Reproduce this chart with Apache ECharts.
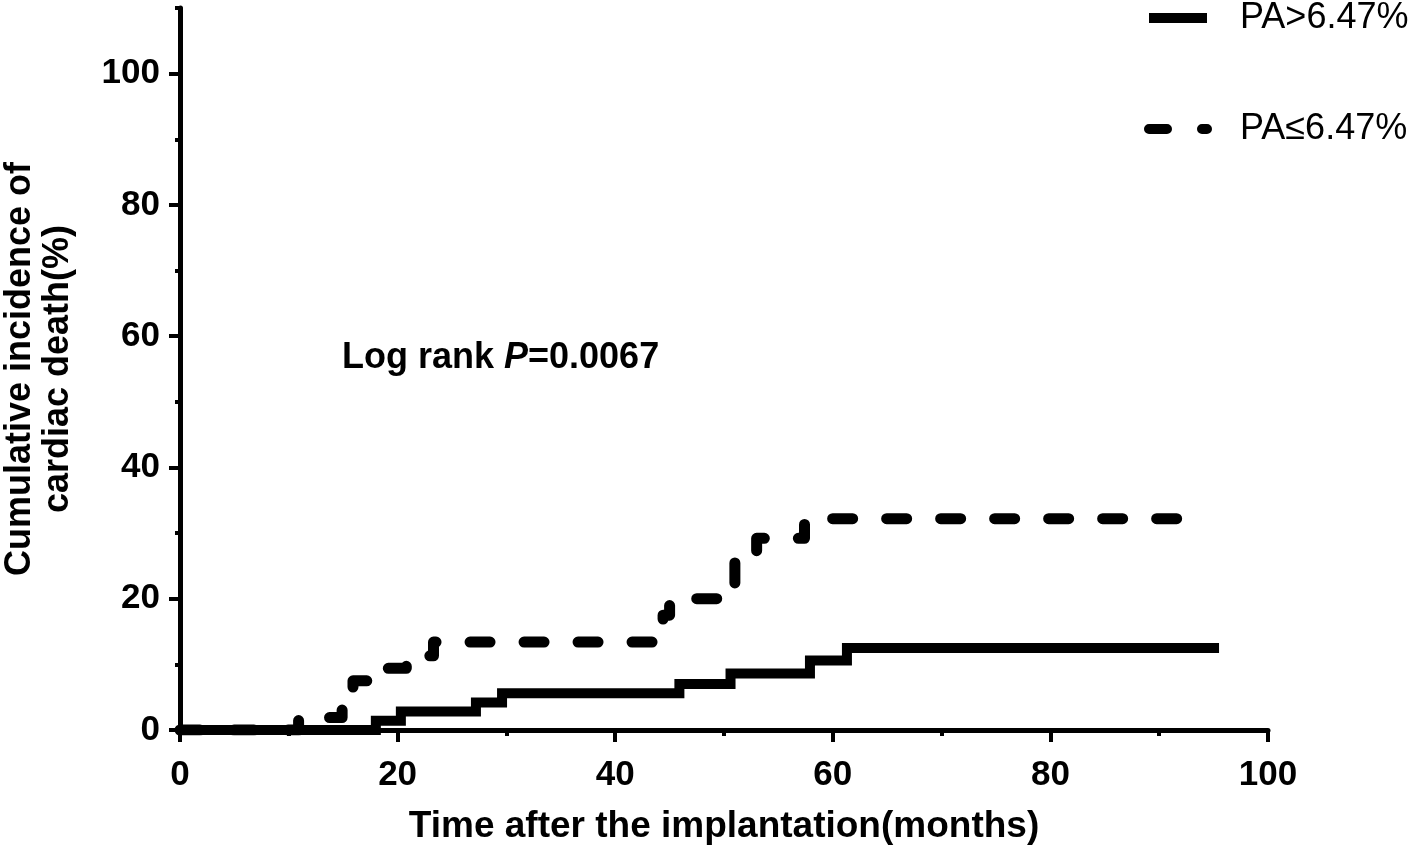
<!DOCTYPE html>
<html>
<head>
<meta charset="utf-8">
<script src="https://cdn.jsdelivr.net/npm/echarts@6/dist/echarts.min.js"></script>
<style>
html,body{margin:0;padding:0;background:#fff;}
#chart{width:1416px;height:851px;}
</style>
</head>
<body>
<div id="chart"></div>
<script>
// ---- data ----
const seriesNames = ['PA>6.47%', 'PA\u22646.47%'];
const highTime  = [0, 18.0, 20.3, 27.2, 29.6, 45.9, 50.6, 57.9, 61.3, 95.5];
const highValue = [0, 1.4, 2.8, 4.2, 5.6, 7.0, 8.6, 10.6, 12.5, 12.5];
const lowTime   = [0, 10.9, 14.9, 15.9, 18.3, 20.8, 23.3, 44.4, 45.0, 51.0, 53.0, 57.4, 92.8];
const lowValue  = [0, 1.9, 3.8, 7.5, 9.4, 11.3, 13.4, 17.5, 20.0, 27.1, 29.2, 32.2, 32.2];
const yMinorTicks = [0, 10, 20, 30, 40, 50, 60, 70, 80, 90, 100, 110];
const yMajorTicks = [0, 20, 40, 60, 80, 100];
const xTitle = 'Time after the implantation(months)';
const yTitle = 'Cumulative incidence of\ncardiac death(%)';
const pText = ['Log rank ', 'P', '=0.0067'];

const FONT = '"Liberation Sans", Arial, Helvetica, sans-serif';
const chart = echarts.init(document.getElementById('chart'));

const pairs = (t, v) => t.map((x, i) => [x, v[i]]);

const commonY = {
  type: 'value', min: 0, max: 110, position: 'left',
  splitLine: { show: false }
};

chart.setOption({
  animation: false,
  backgroundColor: '#ffffff',
  grid: { left: 180, right: 148, top: 8, bottom: 121, containLabel: false, outerBoundsMode: 'none' },
  legend: {
    orient: 'vertical',
    left: 1144, top: 0, padding: 0,
    itemWidth: 58, itemHeight: 10,
    itemGap: 75,
    lineStyle: { width: 10 },
    itemStyle: { opacity: 0, color: 'rgba(0,0,0,0)', borderWidth: 0 },
    textStyle: { fontFamily: FONT, fontSize: 36, color: '#000', padding: [0, 0, 0, 28] },
    data: [
      { name: seriesNames[0] },
      { name: seriesNames[1], lineStyle: { width: 10, type: [18, 35], cap: 'round' } }
    ]
  },
  xAxis: {
    type: 'value', min: 0, max: 100, interval: 20,
    axisLine: { show: true, onZero: false, lineStyle: { color: '#000', width: 5 } },
    axisTick: { show: true, length: 12, lineStyle: { color: '#000', width: 4 } },
    minorTick: { show: true, splitNumber: 2, length: 6, lineStyle: { color: '#000', width: 4 } },
    splitLine: { show: false },
    axisLabel: { color: '#000', fontFamily: FONT, fontWeight: 'bold', fontSize: 35, margin: 28 },
    name: xTitle, nameLocation: 'middle', nameGap: 78,
    nameTextStyle: { color: '#000', fontFamily: FONT, fontWeight: 'bold', fontSize: 37 }
  },
  yAxis: [
    Object.assign({}, commonY, {
      axisLine: { show: true, lineStyle: { color: '#000', width: 5 } },
      axisTick: { show: true, length: 5, customValues: yMinorTicks, lineStyle: { color: '#000', width: 4 } },
      axisLabel: { show: false },
      name: yTitle, nameLocation: 'middle', nameGap: 103, nameRotate: 90,
      nameTextStyle: { color: '#000', fontFamily: FONT, fontWeight: 'bold', fontSize: 36, lineHeight: 38, align: 'center' }
    }),
    Object.assign({}, commonY, {
      axisLine: { show: false },
      axisTick: { show: true, length: 11, customValues: yMajorTicks, lineStyle: { color: '#000', width: 4 } },
      axisLabel: { show: true, customValues: yMajorTicks, color: '#000', fontFamily: FONT, fontWeight: 'bold', fontSize: 35, margin: 20 }
    })
  ],
  graphic: [{
    type: 'text', left: 342, top: 340, z: 10,
    style: {
      text: '{a|' + pText[0] + '}{i|' + pText[1] + '}{a|' + pText[2] + '}',
      rich: {
        a: { fontFamily: FONT, fontWeight: 'bold', fontSize: 36, fill: '#000' },
        i: { fontFamily: FONT, fontWeight: 'bold', fontStyle: 'italic', fontSize: 36, fill: '#000' }
      }
    }
  }],
  series: [
    {
      name: seriesNames[0], type: 'line', step: 'end', yAxisIndex: 0,
      symbol: 'none', z: 3,
      lineStyle: { color: '#000', width: 10, cap: 'butt', join: 'miter' },
      itemStyle: { color: '#000' },
      data: pairs(highTime, highValue)
    },
    {
      name: seriesNames[1], type: 'line', step: 'end', yAxisIndex: 0,
      symbol: 'none', z: 2,
      lineStyle: { color: '#000', width: 11, type: [20, 34], cap: 'round', join: 'round' },
      itemStyle: { color: '#000' },
      data: pairs(lowTime, lowValue)
    }
  ]
});
</script>
</body>
</html>
